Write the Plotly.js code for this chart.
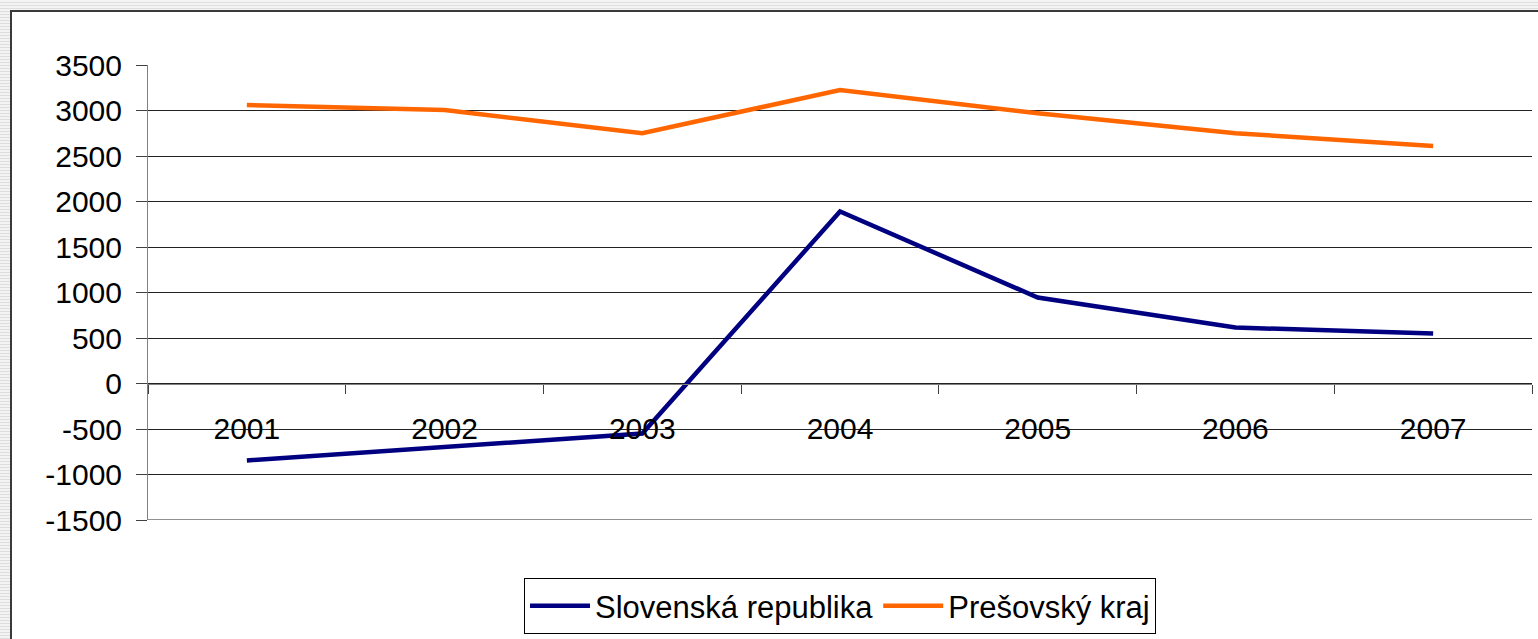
<!DOCTYPE html>
<html>
<head>
<meta charset="utf-8">
<script src="https://cdn.plot.ly/plotly-3.0.1.min.js"></script>
<style>
  html, body { margin:0; padding:0; width:1538px; height:639px; overflow:hidden;
    background: repeating-linear-gradient(to bottom, #f3f3f3 0px, #f3f3f3 2px, #dedede 2px, #dedede 3px); }
  #frame { position:absolute; left:10px; top:10px; width:1528px; height:629px;
    border-left:2px solid #3a3a3a; border-top:2px solid #3a3a3a; background:#fff; }
  #chart { width:1526px; height:627px; }
</style>
</head>
<body>
<div id="frame"><div id="chart"></div></div>
<script>
const years = ['2001','2002','2003','2004','2005','2006','2007'];
const slovenskaRepublika = [-845, -700, -550, 1890, 945, 615, 550];
const presovskyKraj = [3060, 3005, 2750, 3225, 2970, 2750, 2610];
const yTicks = [3500, 3000, 2500, 2000, 1500, 1000, 500, 0, -500, -1000, -1500];
const yTickText = yTicks.map(v => String(v));

const font = {family: '"Liberation Sans", Arial, sans-serif', size: 30, color: '#000'};

const traces = [
  {x: years, y: slovenskaRepublika, name: 'Slovenská republika', type: 'scatter', mode: 'lines',
   line: {color: '#000080', width: 4.5}},
  {x: years, y: presovskyKraj, name: 'Prešovský kraj', type: 'scatter', mode: 'lines',
   line: {color: '#FF6600', width: 4.5}}
];

const layout = {
  width: 1526, height: 627,
  margin: {l: 136, r: 6, t: 53, b: 118},
  paper_bgcolor: '#fff', plot_bgcolor: '#fff',
  font: font,
  showlegend: true,
  xaxis: {
    type: 'category', range: [-0.5, 6.5],
    anchor: 'free', position: 0.3,
    showline: true, linecolor: '#808080', linewidth: 1,
    showgrid: false, zeroline: false,
    ticks: 'outside', ticklen: 9, tickcolor: '#404040', tickwidth: 1,
    tickson: 'boundaries',
    ticklabelstandoff: 18,
    tickfont: font
  },
  yaxis: {
    range: [-1500, 3500], tickvals: yTicks, ticktext: yTickText,
    showline: true, linecolor: '#808080', linewidth: 1,
    showgrid: true, gridcolor: '#222', gridwidth: 1,
    zeroline: false,
    ticks: 'outside', ticklen: 11, tickcolor: '#404040', tickwidth: 1,
    ticklabelstandoff: 8,
    tickfont: font
  },
  shapes: [
    {type: 'line', xref: 'paper', x0: 0, x1: 1, yref: 'y', y0: yTicks[yTicks.length - 1], y1: yTicks[yTicks.length - 1],
     line: {color: '#222', width: 1}, layer: 'below'}
  ],
  legend: {
    orientation: 'h', x: 0.5, xanchor: 'center', y: -0.125, yanchor: 'top',
    bgcolor: '#fff', bordercolor: '#000', borderwidth: 1,
    font: {family: '"Liberation Sans", Arial, sans-serif', size: 31, color: '#000'},
    itemwidth: 60
  }
};

Plotly.newPlot('chart', traces, layout, {displayModeBar: false, staticPlot: true});
</script>
</body>
</html>
